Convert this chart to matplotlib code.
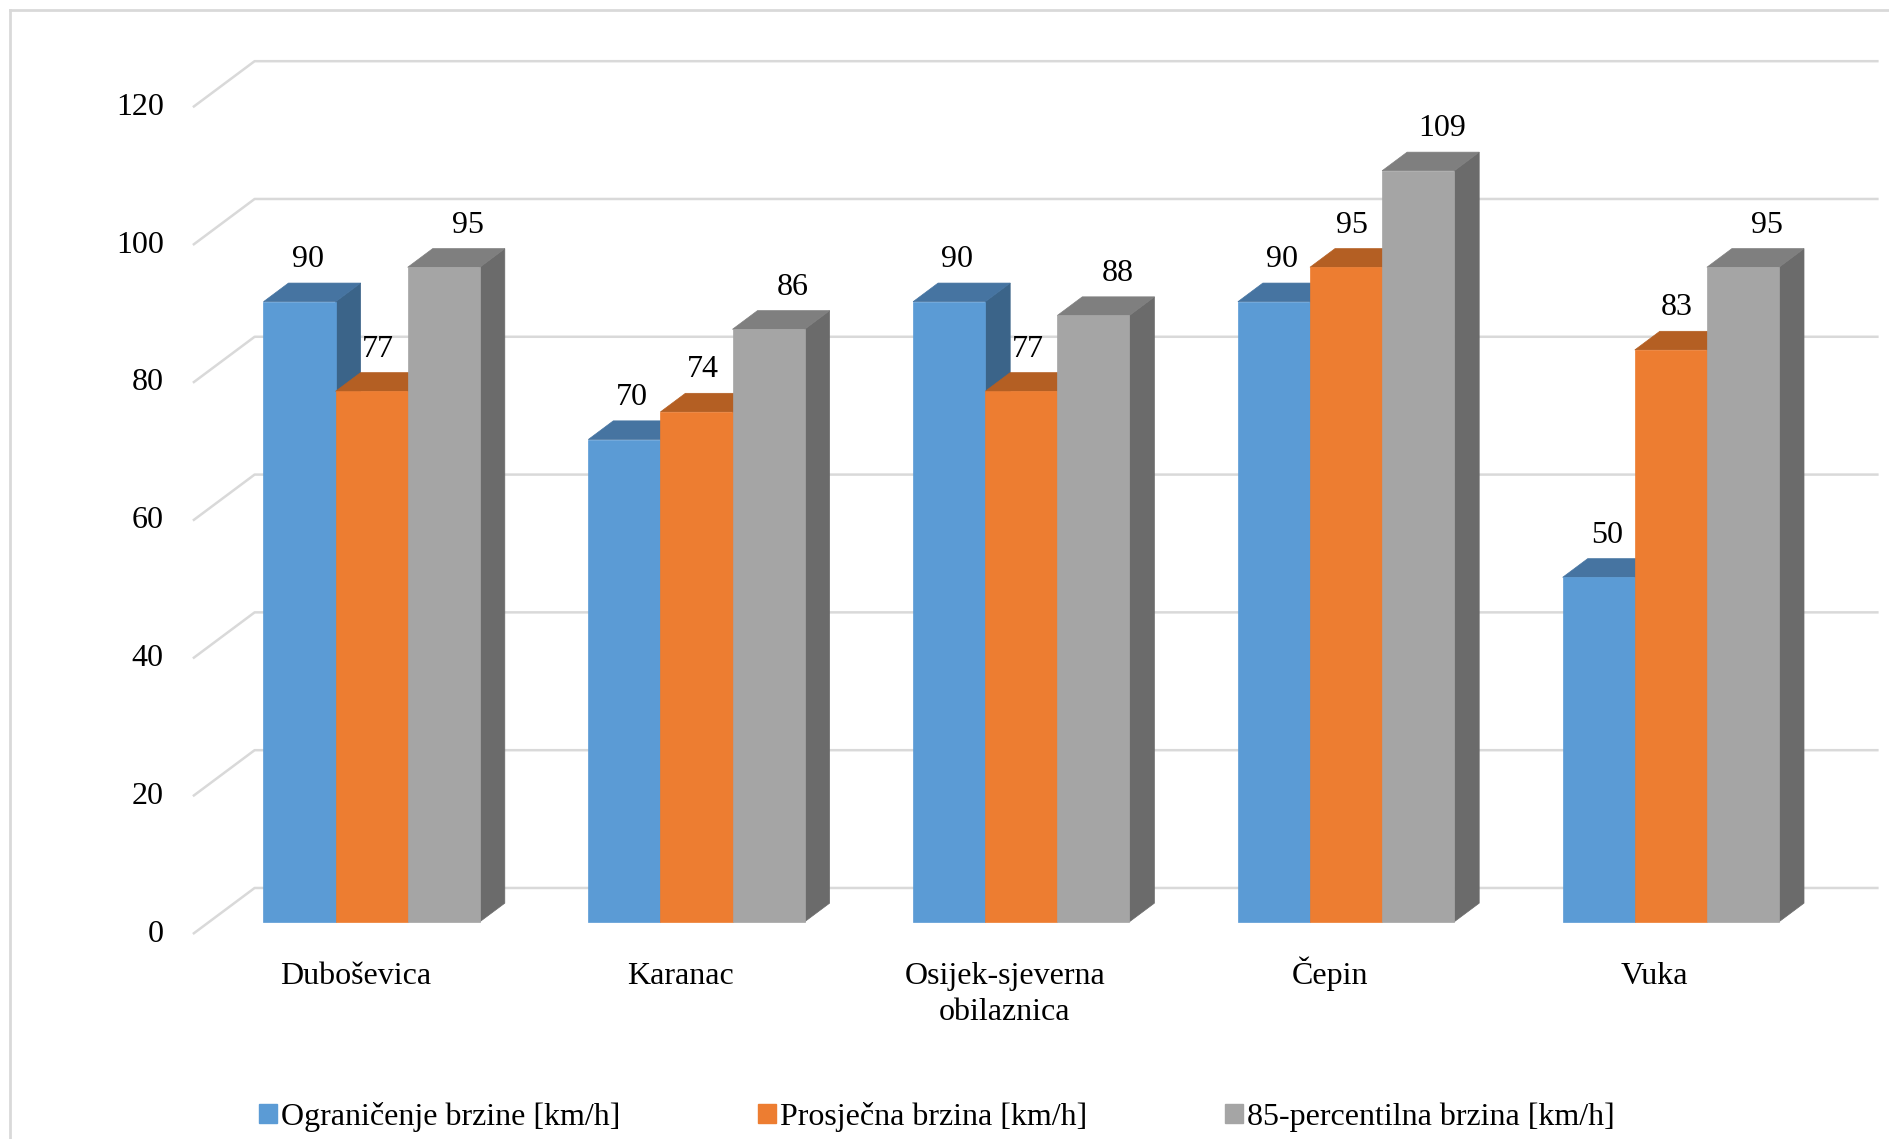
import numpy as np
import matplotlib.pyplot as plt
from matplotlib.patches import Polygon, Patch

plt.rcParams['font.family'] = ['Liberation Serif', 'DejaVu Serif']

# ---------- data ----------
locations = ["Duboševica", "Karanac", "Osijek-sjeverna\nobilaznica", "Čepin", "Vuka"]
series_names = ["Ograničenje brzine [km/h]", "Prosječna brzina [km/h]",
                "85-percentilna brzina [km/h]"]
speed_limit = [90, 70, 90, 90, 50]
avg_speed = [77, 74, 77, 95, 83]
p85_speed = [95, 86, 88, 109, 95]
yticks = [0, 20, 40, 60, 80, 100, 120]

# ---------- style ----------
front_cols = ["#5B9BD5", "#ED7D31", "#A5A5A5"]
top_cols = ["#4674A1", "#B45F23", "#7F7F7F"]
side_cols = ["#3B6489", "#A9561E", "#6B6B6B"]
label_dx = [0.075, 0.07, 0.125]   # excel nudges the labels a bit differently per series
grid_col = "#D9D9D9"
FS = 23

DX, DY = 0.19, 6.68          # full depth of the 3D box (x in categories, y in km/h)
Z0, Z1 = 0.265, 0.67         # depth range occupied by the bars
bar_w = 0.222

W, H = 1890, 1139
fig = plt.figure(figsize=(W / 100, H / 100), dpi=100)
ax = fig.add_axes([0, 0, 1, 1])
# map data coords to pixels: x=-0.5 at px 193, 324.8 px per category; y=0 at 934 px from top, 6.89 px/unit
px_x, x0px = 324.8, 192.9
px_y, y0px = 6.89, 934.0
ax.set_xlim(-0.5 - x0px / px_x, -0.5 + (W - x0px) / px_x)
ax.set_ylim(-(H - y0px) / px_y, y0px / px_y)
ax.axis("off")

# chart border (left + top only visible)
fig.add_artist(plt.Line2D([10 / W, 10 / W], [0, 1 - 10 / H], color=grid_col, lw=2))
fig.add_artist(plt.Line2D([10 / W, 1], [1 - 10 / H, 1 - 10 / H], color=grid_col, lw=2))

n = len(locations)
xl, xr = -0.5, n - 0.5

# wall gridlines
for v in yticks:
    ax.plot([xl, xl + DX, xr + DX], [v, v + DY, v + DY], color=grid_col, lw=1.8,
            zorder=1, solid_capstyle="butt")
    ax.text(xl - 0.09, v, str(v), ha="right", va="center", fontsize=FS)


def draw_bar(xc, val, k):
    xa, xb = xc - bar_w / 2, xc + bar_w / 2
    fx, fy = Z0 * DX, Z0 * DY
    bx, by = Z1 * DX, Z1 * DY
    front = [(xa + fx, fy), (xb + fx, fy), (xb + fx, val + fy), (xa + fx, val + fy)]
    top = [(xa + fx, val + fy), (xb + fx, val + fy), (xb + bx, val + by), (xa + bx, val + by)]
    side = [(xb + fx, fy), (xb + bx, by), (xb + bx, val + by), (xb + fx, val + fy)]
    for pts, c in ((side, side_cols[k]), (top, top_cols[k]), (front, front_cols[k])):
        ax.add_patch(Polygon(pts, closed=True, facecolor=c, edgecolor=c, lw=0.5, zorder=3))
    ax.text(xc + label_dx[k], val + Z1 * DY + 3.4, str(val), ha="center", va="center",
            fontsize=FS, zorder=5)


for i in range(n):
    for k, vals in enumerate([speed_limit, avg_speed, p85_speed]):
        draw_bar(i + (k - 1) * bar_w, vals[i], k)
    # category name, one baseline per line (keeps Č from pushing the text down)
    for j, line in enumerate(locations[i].split("\n")):
        ax.text(i, -7.2 - 5.33 * j, line, ha="center", va="baseline", fontsize=FS)

handles = [Patch(facecolor=c, edgecolor=c, label=s) for c, s in zip(front_cols, series_names)]
fig.legend(handles=handles, loc="center left", bbox_to_anchor=(259 / W, 1 - 1117 / H),
           ncol=3, frameon=False, fontsize=FS, handlelength=0.55, handleheight=0.55,
           handletextpad=0.15, columnspacing=4.3, borderpad=0, borderaxespad=0)

fig.savefig("out.png", dpi=100)
